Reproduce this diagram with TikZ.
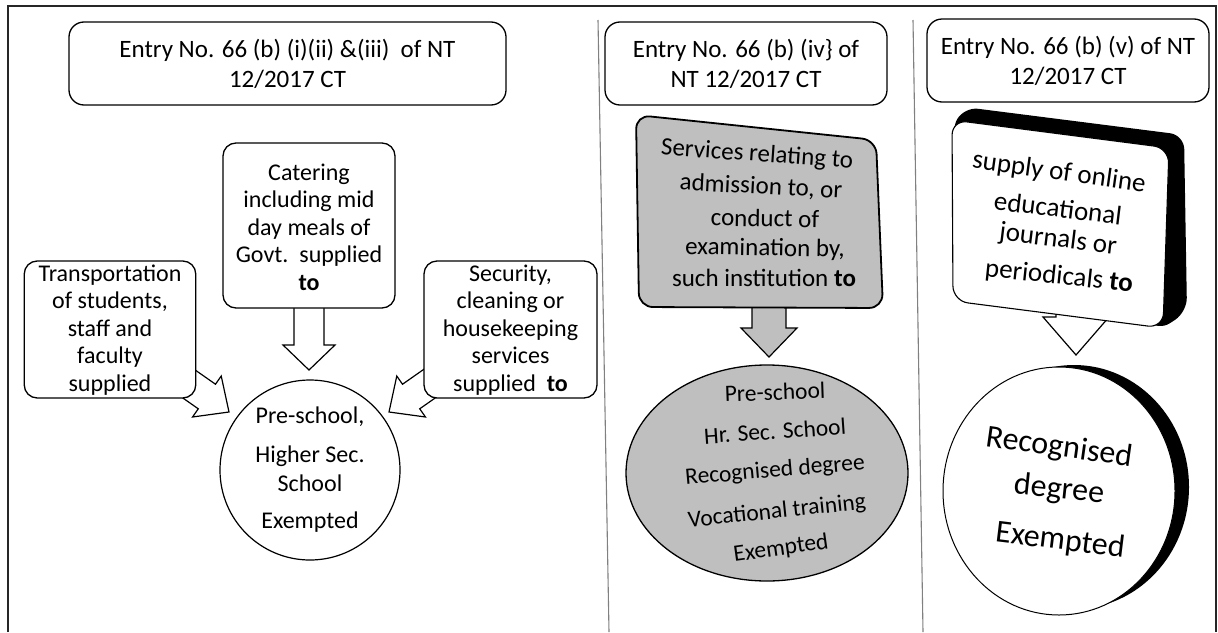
\documentclass[tikz,border=0pt]{standalone}
\usepackage{fontspec}
\setmainfont{Carlito}
\newcommand\myarrow[7]{\begin{scope}[shift={(#2)},rotate=#3]
 \path[#1] (-#4,-#5)--(-#7,-#5)--(-#7,-#6)--(0,0)--(-#7,#6)--(-#7,#5)--(-#4,#5)--cycle;
\end{scope}}
\begin{document}
\begin{tikzpicture}[x=1pt,y=-1pt,
  frame/.style={line width=2.2pt, draw=black!85},
  divider/.style={line width=1.1pt, draw=black!50},
  hdr/.style={draw, line width=1.3pt, rounded corners=15pt, fill=white, align=center,
    font=\fontsize{25}{30}\selectfont, inner sep=0pt, minimum width=282pt, minimum height=83pt},
  boxs/.style={draw, line width=1.3pt, rounded corners=13pt, fill=white, inner sep=0pt},
  ltxt/.style={align=center, inner sep=0pt, font=\fontsize{24}{27.5}\selectfont},
  mtxt/.style={inner sep=0pt, font=\fontsize{25}{30}\selectfont},
  etxt/.style={inner sep=0pt, font=\fontsize{23.5}{28}\selectfont},
  rtxt/.style={inner sep=0pt, font=\fontsize{27}{32}\selectfont},
  dtxt/.style={inner sep=0pt, font=\fontsize{32}{38}\selectfont},
  barrow/.style={draw, line width=1.2pt, line join=miter}
]
\useasboundingbox (0,0) rectangle (1218,632);
% outer frame and dividers
\draw[frame] (8,632) -- (8,6) -- (1216,6) -- (1216,632);
\draw[divider] (598,20) -- (609,632);
\draw[divider] (913,20) -- (923,632);

% headers
\node[hdr, minimum width=437pt] (h1) at (287.5,63.5) {Entry No. 66 (b) (i)(ii) \&(iii)\ \ of NT\\12/2017 CT};
\node[hdr] (h2) at (746,63.5) {Entry No. 66 (b) (iv\} of\\NT 12/2017 CT};
\node[hdr] (h3) at (1068,60.5) {Entry No. 66 (b) (v) of NT\\12/2017 CT};

% ---------- left panel ----------
\myarrow{barrow,fill=white}{309,370}{-90}{75}{15}{26}{25}
\myarrow{barrow,fill=white}{229,412}{-35}{85}{15}{25}{27}
\myarrow{barrow,fill=white}{389,412}{-145}{85}{15}{25}{27}

\node[boxs, minimum width=172pt, minimum height=165pt] (cat) at (309,225.5) {};
\node[ltxt] (cattx) at (309,227) {Catering\\including mid\\day meals of\\Govt.\ \ supplied\\\textbf{to}};
\node[boxs, minimum width=171.5pt, minimum height=137pt] (tra) at (110,329.5) {};
\node[ltxt] (tratx) at (110,330) {Transportation\\of students,\\staff and\\faculty\\supplied};
\node[boxs, minimum width=173pt, minimum height=137pt] (sec) at (510.5,329.5) {};
\node[ltxt] (sectx) at (510.5,330) {Security,\\cleaning or\\housekeeping\\services\\supplied\ \ \textbf{to}};

\draw[line width=1.2pt, fill=white] (310,470) circle[radius=90pt];
\node[ltxt] (c1) at (310,417) {Pre-school,};
\node[ltxt] (c2) at (310,456) {Higher Sec.};
\node[ltxt] (c3) at (310,483) {School};
\node[ltxt] (c4) at (310,522) {Exempted};

% ---------- middle panel ----------
\myarrow{barrow,fill=black!25}{769,357}{-90}{60}{17}{28}{29}
\draw[line width=1.8pt, fill=black!25, rounded corners=14pt]
  (636,115) -- (876,140) -- (883,308) -- (639,307) -- cycle;
\node[mtxt, rotate=-4] (m1) at (757,155) {Services relating to};
\node[mtxt, rotate=-3] (m2) at (761,187) {admission to, or};
\node[mtxt, rotate=-1] (m3) at (765,218) {conduct of};
\node[mtxt, rotate=-1] (m4) at (765,249) {examination by,};
\node[mtxt] (m5) at (764,278) {such institution \textbf{to}};

\draw[line width=1.3pt, fill=black!25] (767,473) ellipse[x radius=141pt, y radius=108pt];
\node[etxt, rotate=2] (e1) at (775,392) {Pre-school};
\node[etxt, rotate=4] (e2) at (775,431) {Hr. Sec. School};
\node[etxt, rotate=5] (e3) at (775,471) {Recognised degree};
\node[etxt, rotate=6] (e4) at (777,512) {Vocational training};
\node[etxt, rotate=8] (e5) at (781,549) {Exempted};

% ---------- right panel ----------
\myarrow{barrow,fill=white}{1076,355}{-90}{70}{20}{33}{38}
\fill[black, rounded corners=14pt] (950,132) -- (964,107) -- (1184,135) -- (1187,312) -- (1158,331) -- cycle;
\draw[line width=1.1pt, fill=white, rounded corners=15pt]
  (952,120) -- (1169,148) -- (1163,328) -- (953,301) -- cycle;
\node[rtxt, rotate=-8] (r1) at (1059,173) {supply of online};
\node[rtxt, rotate=-7] (r2) at (1058,208) {educational};
\node[rtxt, rotate=-7] (r3) at (1058,240) {journals or};
\node[rtxt, rotate=-6] (r4) at (1059,277) {periodicals \textbf{to}};

\fill[black] (1074,487) ellipse[x radius=115pt, y radius=122pt];
\draw[line width=1pt, fill=white] (1059,491) ellipse[x radius=116pt, y radius=124pt];
\node[dtxt, rotate=-8] (d1) at (1059,448) {Recognised};
\node[dtxt, rotate=-6] (d2) at (1059,490) {degree};
\node[dtxt, rotate=-7] (d3) at (1060,541) {Exempted};
\end{tikzpicture}
\end{document}
